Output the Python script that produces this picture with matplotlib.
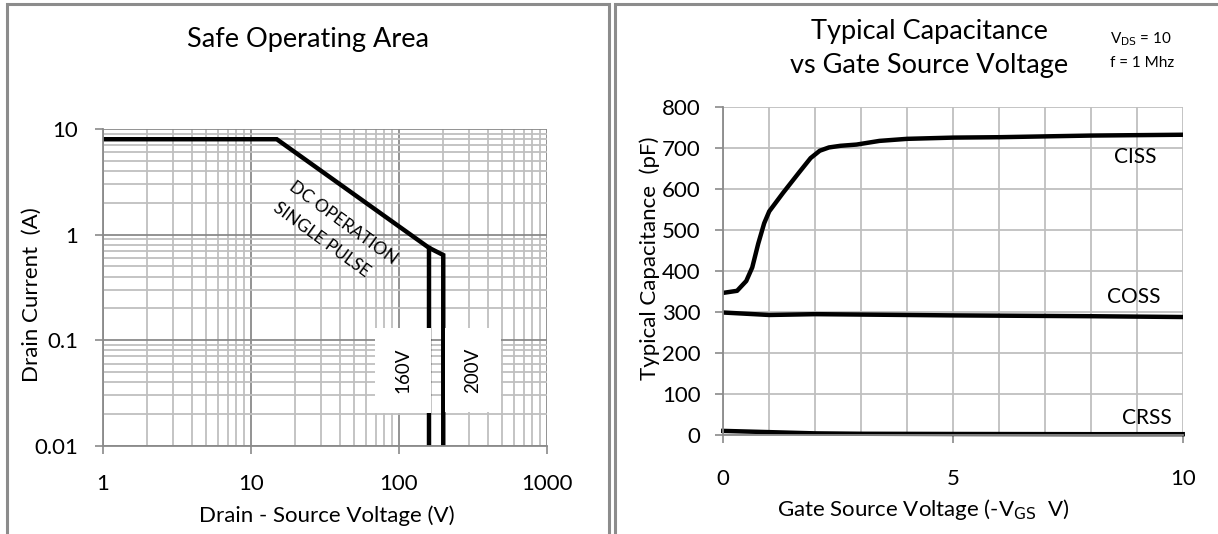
import matplotlib
matplotlib.use("Agg")
import matplotlib.pyplot as plt
from matplotlib.patches import Rectangle
from matplotlib.ticker import FixedLocator, NullFormatter, LogLocator

plt.rcParams['font.family'] = ['Lato', 'DejaVu Sans']

# Safe operating area (log-log)
soa_v = [1, 15, 160, 200, 200]
soa_i = [8, 8, 0.75, 0.64, 0.01]
soa160_v = [160, 160]
soa160_i = [0.75, 0.01]

# Typical capacitance vs gate-source voltage
vgs = [0, 0.3, 0.5, 0.63, 0.76, 0.89, 1.0, 1.3, 1.65, 1.9, 2.1, 2.3, 2.55, 2.9, 3.4, 4.0, 5.0, 6.0, 7.0, 8.0, 9.0, 10.0]
ciss = [347, 352, 376, 409, 467, 517, 546, 591, 641, 676, 694, 702, 706, 709, 718, 723, 726, 727, 729, 731, 732, 733]
coss_v = [0, 0.5, 1, 2, 3, 5, 8, 10]
coss = [299, 296, 293, 295, 294, 292, 290, 288]
crss_v = [0, 1, 2, 3, 5, 8, 10]
crss = [10, 7, 4, 3, 2.5, 2, 2]

W, H = 1218, 534
fig = plt.figure(figsize=(W / 100, H / 100), dpi=100)

GRID_MAJ = '#8a8a8a'
GRID_MIN = '#bfbfbf'
SPINE = '#8a8a8a'
TICK_FS = 16
LABEL_FS = 16
TITLE_FS = 19.5

# panel borders
def fig_rect(x0, y0, x1, y1):
    return Rectangle((x0 / W, 1 - y1 / H), (x1 - x0) / W, (y1 - y0) / H,
                     transform=fig.transFigure, fill=False, edgecolor='#8c8c8c',
                     linewidth=2.2, clip_on=False)

fig.patches.append(fig_rect(6.5, 3.5, 609, 560))
fig.patches.append(fig_rect(615, 3.5, 1240, 560))


def style_axes(ax, xpad, ypad):
    ax.tick_params(which='major', length=5.5, color=SPINE, width=1.2, labelsize=TICK_FS)
    ax.tick_params(axis='x', which='major', pad=xpad)
    ax.tick_params(axis='y', which='major', pad=ypad)
    ax.tick_params(which='minor', length=0)
    for s in ax.spines.values():
        s.set_visible(False)
    for side in ('left', 'bottom'):
        ax.spines[side].set_visible(True)
        ax.spines[side].set_color(SPINE)
        ax.spines[side].set_linewidth(1.3)
    ax.set_axisbelow(True)


# ---------- left chart ----------
ax1 = fig.add_axes([102.7 / W, 1 - 445.7 / H, 444 / W, 316.7 / H])
ax1.set_xscale('log')
ax1.set_yscale('log')
ax1.set_xlim(1, 1000)
ax1.set_ylim(0.01, 10)
ax1.xaxis.set_major_locator(FixedLocator([1, 10, 100, 1000]))
ax1.yaxis.set_major_locator(FixedLocator([0.01, 0.1, 1, 10]))
ax1.xaxis.set_minor_locator(LogLocator(base=10, subs=range(2, 10)))
ax1.yaxis.set_minor_locator(LogLocator(base=10, subs=range(2, 10)))
ax1.xaxis.set_minor_formatter(NullFormatter())
ax1.yaxis.set_minor_formatter(NullFormatter())
ax1.set_xticklabels(['1', '10', '100', '1000'])
ax1.set_yticklabels(['0.01', '0.1', '1', '10'])
ax1.grid(which='major', color=GRID_MAJ, linewidth=1.3)
ax1.grid(which='minor', color=GRID_MIN, linewidth=1.3)
style_axes(ax1, 15, 12)

ax1.plot(soa_v, soa_i, color='black', linewidth=3.2, solid_joinstyle='miter')
ax1.plot(soa160_v, soa160_i, color='black', linewidth=3.2)

ax1.text(42, 1.3, 'DC OPERATION', rotation=-36, ha='center', va='center', fontsize=12.5)
ax1.text(30, 0.9, 'SINGLE PULSE', rotation=-36, ha='center', va='center', fontsize=12.5)
box = dict(boxstyle='square,pad=1.05', facecolor='white', edgecolor='none')
ax1.text(107, 0.052, '160V', rotation=90, ha='center', va='center', fontsize=13.5, bbox=box)
ax1.text(318, 0.052, '200V', rotation=90, ha='center', va='center', fontsize=13.5, bbox=box)

ax1.set_xlabel('Drain - Source Voltage (V)', fontsize=LABEL_FS)
ax1.set_ylabel('Drain Current  (A)', fontsize=LABEL_FS)
ax1.xaxis.set_label_coords(0.505, -0.187)
ax1.yaxis.set_label_coords(-0.138, 0.476)
fig.text(308 / W, 1 - 40 / H, 'Safe Operating Area', ha='center', va='center', fontsize=TITLE_FS)

# ---------- right chart ----------
ax2 = fig.add_axes([723.3 / W, 1 - 435 / H, 459.4 / W, 327.7 / H])
ax2.set_xlim(0, 10)
ax2.set_ylim(0, 800)
ax2.set_xticks([0, 5, 10])
ax2.set_xticks(range(0, 11), minor=True)
ax2.set_yticks(range(0, 801, 100))
ax2.grid(which='both', color=GRID_MIN, linewidth=1.3)
style_axes(ax2, 19, 11)

ax2.plot(vgs, ciss, color='black', linewidth=3.2)
ax2.plot(coss_v, coss, color='black', linewidth=3.2)
ax2.plot(crss_v, crss, color='black', linewidth=3.2, clip_on=False)

ax2.text(8.96, 679, 'CISS', ha='center', va='center', fontsize=15)
ax2.text(8.94, 338, 'COSS', ha='center', va='center', fontsize=15)
ax2.text(9.22, 42, 'CRSS', ha='center', va='center', fontsize=15)

ax2.set_xlabel(r'Gate Source Voltage (-V$_{\mathrm{GS}}$  V)', fontsize=LABEL_FS)
ax2.set_ylabel('Typical Capacitance  (pF)', fontsize=LABEL_FS)
ax2.xaxis.set_label_coords(0.435, -0.189)
ax2.yaxis.set_label_coords(-0.138, 0.54)
fig.text(929 / W, 1 - 31 / H, 'Typical Capacitance', ha='center', va='center', fontsize=TITLE_FS)
fig.text(929 / W, 1 - 66 / H, 'vs Gate Source Voltage', ha='center', va='center', fontsize=TITLE_FS)
fig.text(1110 / W, 1 - 39 / H, r'V$_{\mathrm{DS}}$ = 10', ha='left', va='center', fontsize=11)
fig.text(1110 / W, 1 - 63 / H, 'f = 1 Mhz', ha='left', va='center', fontsize=11)

fig.savefig('out.png', dpi=100)
